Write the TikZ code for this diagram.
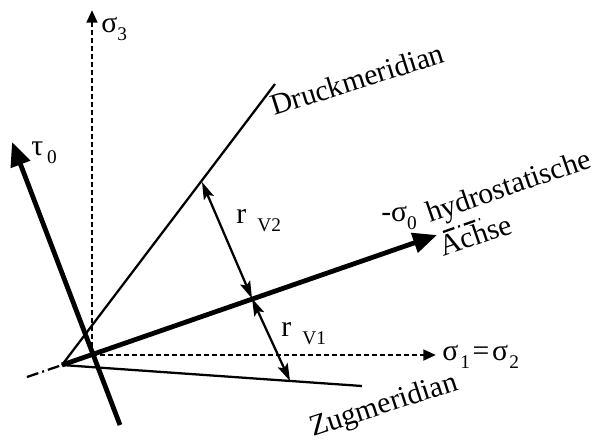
\documentclass[tikz,border=0pt]{standalone}
\usepackage{fontspec}
\setmainfont{Liberation Serif}
\usetikzlibrary{arrows.meta}

% tiefgestellter Index
\newcommand\lowidx[1]{\raisebox{-0.3em}{\fontsize{14.5}{14.5}\selectfont #1}}

\begin{document}
\begin{tikzpicture}[
    x=0.75pt, y=-0.75pt,
    % Stile
    txt/.style={font=\fontsize{22.3}{27}\selectfont, inner sep=0pt},
    dashaxis/.style={line width=2pt, dash pattern=on 3.9pt off 2.1pt, -{Triangle[length=9.5pt,width=8pt]}},
    mainaxis/.style={line width=3.6pt, -{Triangle[length=18pt,width=15pt]}},
    meridian/.style={line width=1.7pt},
    radius/.style={line width=1.7pt, {Stealth[length=13pt,width=8pt,inset=2.5pt]}-{Stealth[length=13pt,width=8pt,inset=2.5pt]}},
    centerline/.style={line width=1.7pt, dash pattern=on 9pt off 3pt on 1.5pt off 3pt}
]
    \useasboundingbox (0,0) rectangle (593,443);

    % ==================== PUNKTE ====================
    \coordinate (A) at (62,365);     % Spitze der Meridiane
    \coordinate (O) at (92,355);     % Ursprung
    \coordinate (S3) at (92,10);
    \coordinate (S1) at (436,355);
    \coordinate (H) at (437,235);
    \coordinate (Tu) at (120,425);
    \coordinate (To) at (12,142);
    \coordinate (D) at (275,84);
    \coordinate (Z) at (362,386);
    \coordinate (P) at (252,298.5);
    \coordinate (R2) at (202,182);
    \coordinate (R1) at (290,381);
    \coordinate (Ab) at (27,377);
    \coordinate (Cv1) at (443,232);
    \coordinate (Cv2) at (480,219);

    % ==================== ACHSEN ====================
    \draw [dashaxis] (O) -- (S3);
    \draw [dashaxis] (O) -- (S1);

    % Meridiane
    \draw [meridian] (A) -- (D);
    \draw [meridian] (A) -- (Z);

    % Verlaengerung der hydrostatischen Achse
    \draw [centerline] (Ab) -- (A);
    \draw [centerline] (Cv1) -- (Cv2);

    % Radien
    \draw [radius] (P) -- (R2);
    \draw [radius] (P) -- (R1);

    \draw [mainaxis] (A) -- (H);
    \draw [mainaxis] (Tu) -- (To);

    % ==================== BESCHRIFTUNGEN ====================
    \node [txt, anchor=base west] (s3lab) at (101,32) {σ\lowidx{3}};
    \node [txt, anchor=base west] (s1lab) at (442,360) {σ\kern1.5pt\lowidx{1}\kern2pt=\kern2ptσ\kern1pt\lowidx{2}};
    \node [txt, anchor=base west] (taulab) at (31,155) {τ\kern3pt\lowidx{0}};
    \node [txt, anchor=base west] (s0lab) at (381,221) {-σ\lowidx{0}};
    \node [txt, anchor=base west] (rv2lab) at (236,223) {r\kern0.38em\lowidx{V2}};
    \node [txt, anchor=base west] (rv1lab) at (281,336) {r\kern0.38em\lowidx{V1}};

    \node [txt, anchor=base west, rotate=17.5] (dmlab) at (274,116) {Druckmeridian};
    \node [txt, anchor=base west, rotate=18] (zmlab) at (313,437) {Zugmeridian};
    \node [txt, anchor=base west, rotate=19] (hylab) at (430,223) {hydrostatische};
    \node [txt, anchor=base west, rotate=19] (aclab) at (443,257) {Achse};

\end{tikzpicture}
\end{document}
